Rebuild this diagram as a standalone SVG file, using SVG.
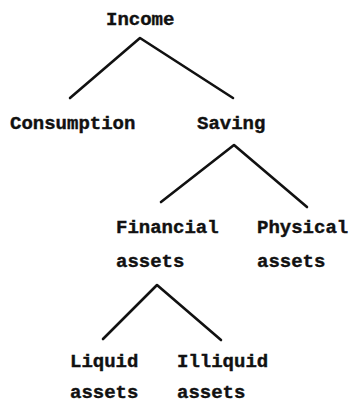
<svg xmlns="http://www.w3.org/2000/svg" width="349" height="403" viewBox="0 0 349 403">
  <style>
    .lbl { font-family: "Liberation Mono", "DejaVu Sans Mono", monospace; font-size: 19px; font-weight: bold; fill: #111; stroke: #111; stroke-width: 0.4; }
    .edge { fill: none; stroke: #111; stroke-width: 2.6; stroke-linecap: round; stroke-linejoin: round; }
  </style>
  <rect width="349" height="403" fill="#fff"/>
  <g id="connectors">
    <polyline class="edge" points="70,98 140,38 233,98"/>
    <polyline class="edge" points="161,202 234,145 307,207"/>
    <polyline class="edge" points="103,339 157,285 221,340"/>
  </g>
  <g id="income"><text class="lbl" x="106" y="25">Income</text></g>
  <g id="consumption"><text class="lbl" x="10" y="129">Consumption</text></g>
  <g id="saving"><text class="lbl" x="197" y="129">Saving</text></g>
  <g id="financial-assets">
    <text class="lbl" x="116" y="233">Financial</text>
    <text class="lbl" x="116" y="267">assets</text>
  </g>
  <g id="physical-assets">
    <text class="lbl" x="257" y="233">Physical</text>
    <text class="lbl" x="257" y="267">assets</text>
  </g>
  <g id="liquid-assets">
    <text class="lbl" x="70" y="367">Liquid</text>
    <text class="lbl" x="70" y="398">assets</text>
  </g>
  <g id="illiquid-assets">
    <text class="lbl" x="177" y="367">Illiquid</text>
    <text class="lbl" x="177" y="398">assets</text>
  </g>
</svg>
